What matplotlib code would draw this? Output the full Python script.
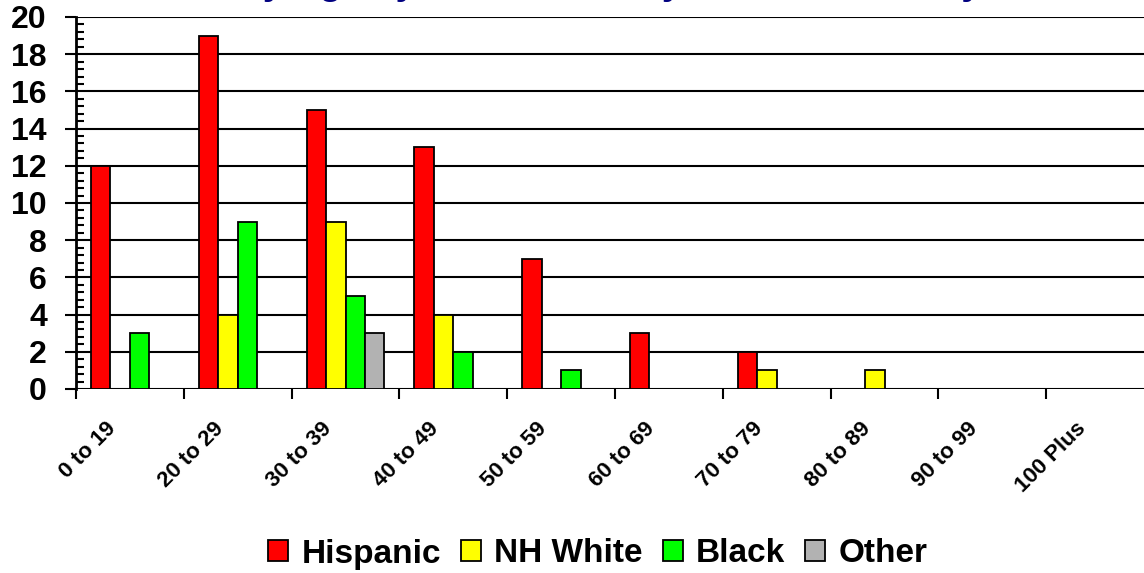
import numpy as np
import matplotlib
matplotlib.use('Agg')
import matplotlib.pyplot as plt
from matplotlib.ticker import MultipleLocator

plt.rcParams['font.family'] = ['Liberation Sans', 'DejaVu Sans']
plt.rcParams['font.weight'] = 'bold'

age_groups = ['0 to 19', '20 to 29', '30 to 39', '40 to 49', '50 to 59',
              '60 to 69', '70 to 79', '80 to 89', '90 to 99', '100 Plus']
hispanic = [12, 19, 15, 13, 7, 3, 2, 0, 0, 0]
nh_white = [0, 4, 9, 4, 0, 0, 1, 1, 0, 0]
black = [3, 9, 5, 2, 1, 0, 0, 0, 0, 0]
other = [0, 0, 3, 0, 0, 0, 0, 0, 0, 0]

series = [('Hispanic', hispanic, '#ff0000'),
          ('NH White', nh_white, '#ffff00'),
          ('Black', black, '#00ff00'),
          ('Other', other, '#b2b2b2')]

fig = plt.figure(figsize=(11.44, 5.73), dpi=100)
# plot area runs a little past the right edge, as in the original
ax = fig.add_axes([76 / 1144, 1 - 389 / 573, 1078 / 1144, 372 / 573])

x = np.arange(len(age_groups))
width = 0.18
for k, (name, vals, color) in enumerate(series):
    vals = np.array(vals, dtype=float)
    mask = vals > 0
    ax.bar(x[mask] + (k - 1.5) * width, vals[mask], width, color=color,
           edgecolor='black', linewidth=1.3, zorder=3, label=name)

ax.set_xlim(-0.5, len(age_groups) - 0.5)
ax.set_ylim(0, 20)

ax.yaxis.set_major_locator(MultipleLocator(2))
ax.yaxis.set_minor_locator(MultipleLocator(0.4))
ax.grid(axis='y', which='major', color='black', linewidth=1.5, zorder=0)
ax.tick_params(axis='y', which='major', direction='out', length=8, width=1.5,
               labelsize=23, pad=13)
ax.tick_params(axis='y', which='minor', direction='in', length=6, width=1.5)
for lab in ax.get_yticklabels():
    lab.set_fontweight('bold')

ax.set_xticks(np.arange(len(age_groups) + 1) - 0.5)
ax.set_xticklabels([])
ax.set_xticks(x - 0.16, minor=True)
ax.set_xticklabels(age_groups, minor=True, rotation=45, ha='right', va='center',
                   rotation_mode='anchor', fontsize=16, fontweight='bold')
ax.tick_params(axis='x', which='major', direction='out', length=7, width=1.5)
ax.tick_params(axis='x', which='minor', length=0, pad=26)

for side in ['top', 'right', 'bottom']:
    ax.spines[side].set_visible(False)
ax.spines['left'].set_linewidth(2)
ax.spines['left'].set_zorder(4)

# title sits mostly above the top edge; only the descenders show
fig.text(106 / 1144, 1 + 6 / 573, 'Deaths by Age by Race/Ethnicity in Harris County',
         ha='left', va='baseline', fontsize=26.7, fontweight='bold', color='#000080')

fig.legend(loc='center', bbox_to_anchor=(598 / 1144, 1 - 554 / 573), ncol=4,
           frameon=False, handlelength=0.6, handleheight=0.6,
           handletextpad=0.4, columnspacing=0.6, prop={'weight': 'bold', 'size': 24})

fig.savefig('out.png', dpi=100)
